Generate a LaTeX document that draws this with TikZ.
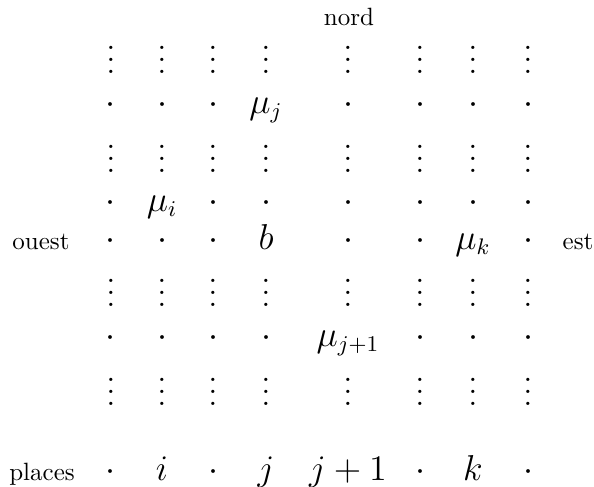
\documentclass[tikz,border=0pt]{standalone}
\usepackage{amsmath}
\usetikzlibrary{positioning}
\newcommand{\gridfont}{\fontsize{13.5pt}{16pt}\selectfont}
\newcommand{\tallvdots}{\vbox{\baselineskip4.9pt\lineskiplimit0pt
    \hbox{.}\hbox{.}\hbox{.}}}
\tikzset{
    gridnode/.style  = {inner sep=0pt, anchor=base, font=\gridfont, yshift=-3.4pt},
    vdotnode/.style  = {inner sep=0pt, anchor=center, font=\gridfont},
    sidelabel/.style = {inner sep=0pt, anchor=base, font=\normalsize}
}

\begin{document}
\begin{tikzpicture}[x=0.4pt, y=-0.4pt]
\useasboundingbox (0,0) rectangle (594,487);
% columns and rows of the grid
\foreach \x [count=\k] in {111,162,213,266,348,420,473,528}
   \coordinate (col\k) at (\x,0);
\foreach \y [count=\r] in {60,105,159,203,241,293,338,392,472}
   \coordinate (row\r) at (0,\y);
% rows of vertical dots
\foreach \r in {1,3,6,8}
   \foreach \k in {1,...,8}
      \node[vdotnode] (n-\r-\k) at (col\k |- row\r) {\tallvdots};
% rows of centred dots and labels
\foreach \r/\cells in {
      2/{\cdot,\cdot,\cdot,\mu_j,\cdot,\cdot,\cdot,\cdot},
      4/{\cdot,\mu_i,\cdot,\cdot,\cdot,\cdot,\cdot,\cdot},
      5/{\cdot,\cdot,\cdot,b,\cdot,\cdot,\mu_k,\cdot},
      7/{\cdot,\cdot,\cdot,\cdot,\mu_{j+1},\cdot,\cdot,\cdot},
      9/{\cdot,i,\cdot,j,j+1,\cdot,k,\cdot}}
   \foreach \c [count=\k] in \cells
      \node[gridnode] (n-\r-\k) at (col\k |- row\r) {$\c$};
% compass and row labels
\node[sidelabel] (nord)   at (349,25)  {nord};
\node[sidelabel] (ouest)  at (41,249)  {ouest};
\node[sidelabel] (est)    at (578,249) {est};
\node[sidelabel] (places) at (42,480)  {places};
\end{tikzpicture}
\end{document}
